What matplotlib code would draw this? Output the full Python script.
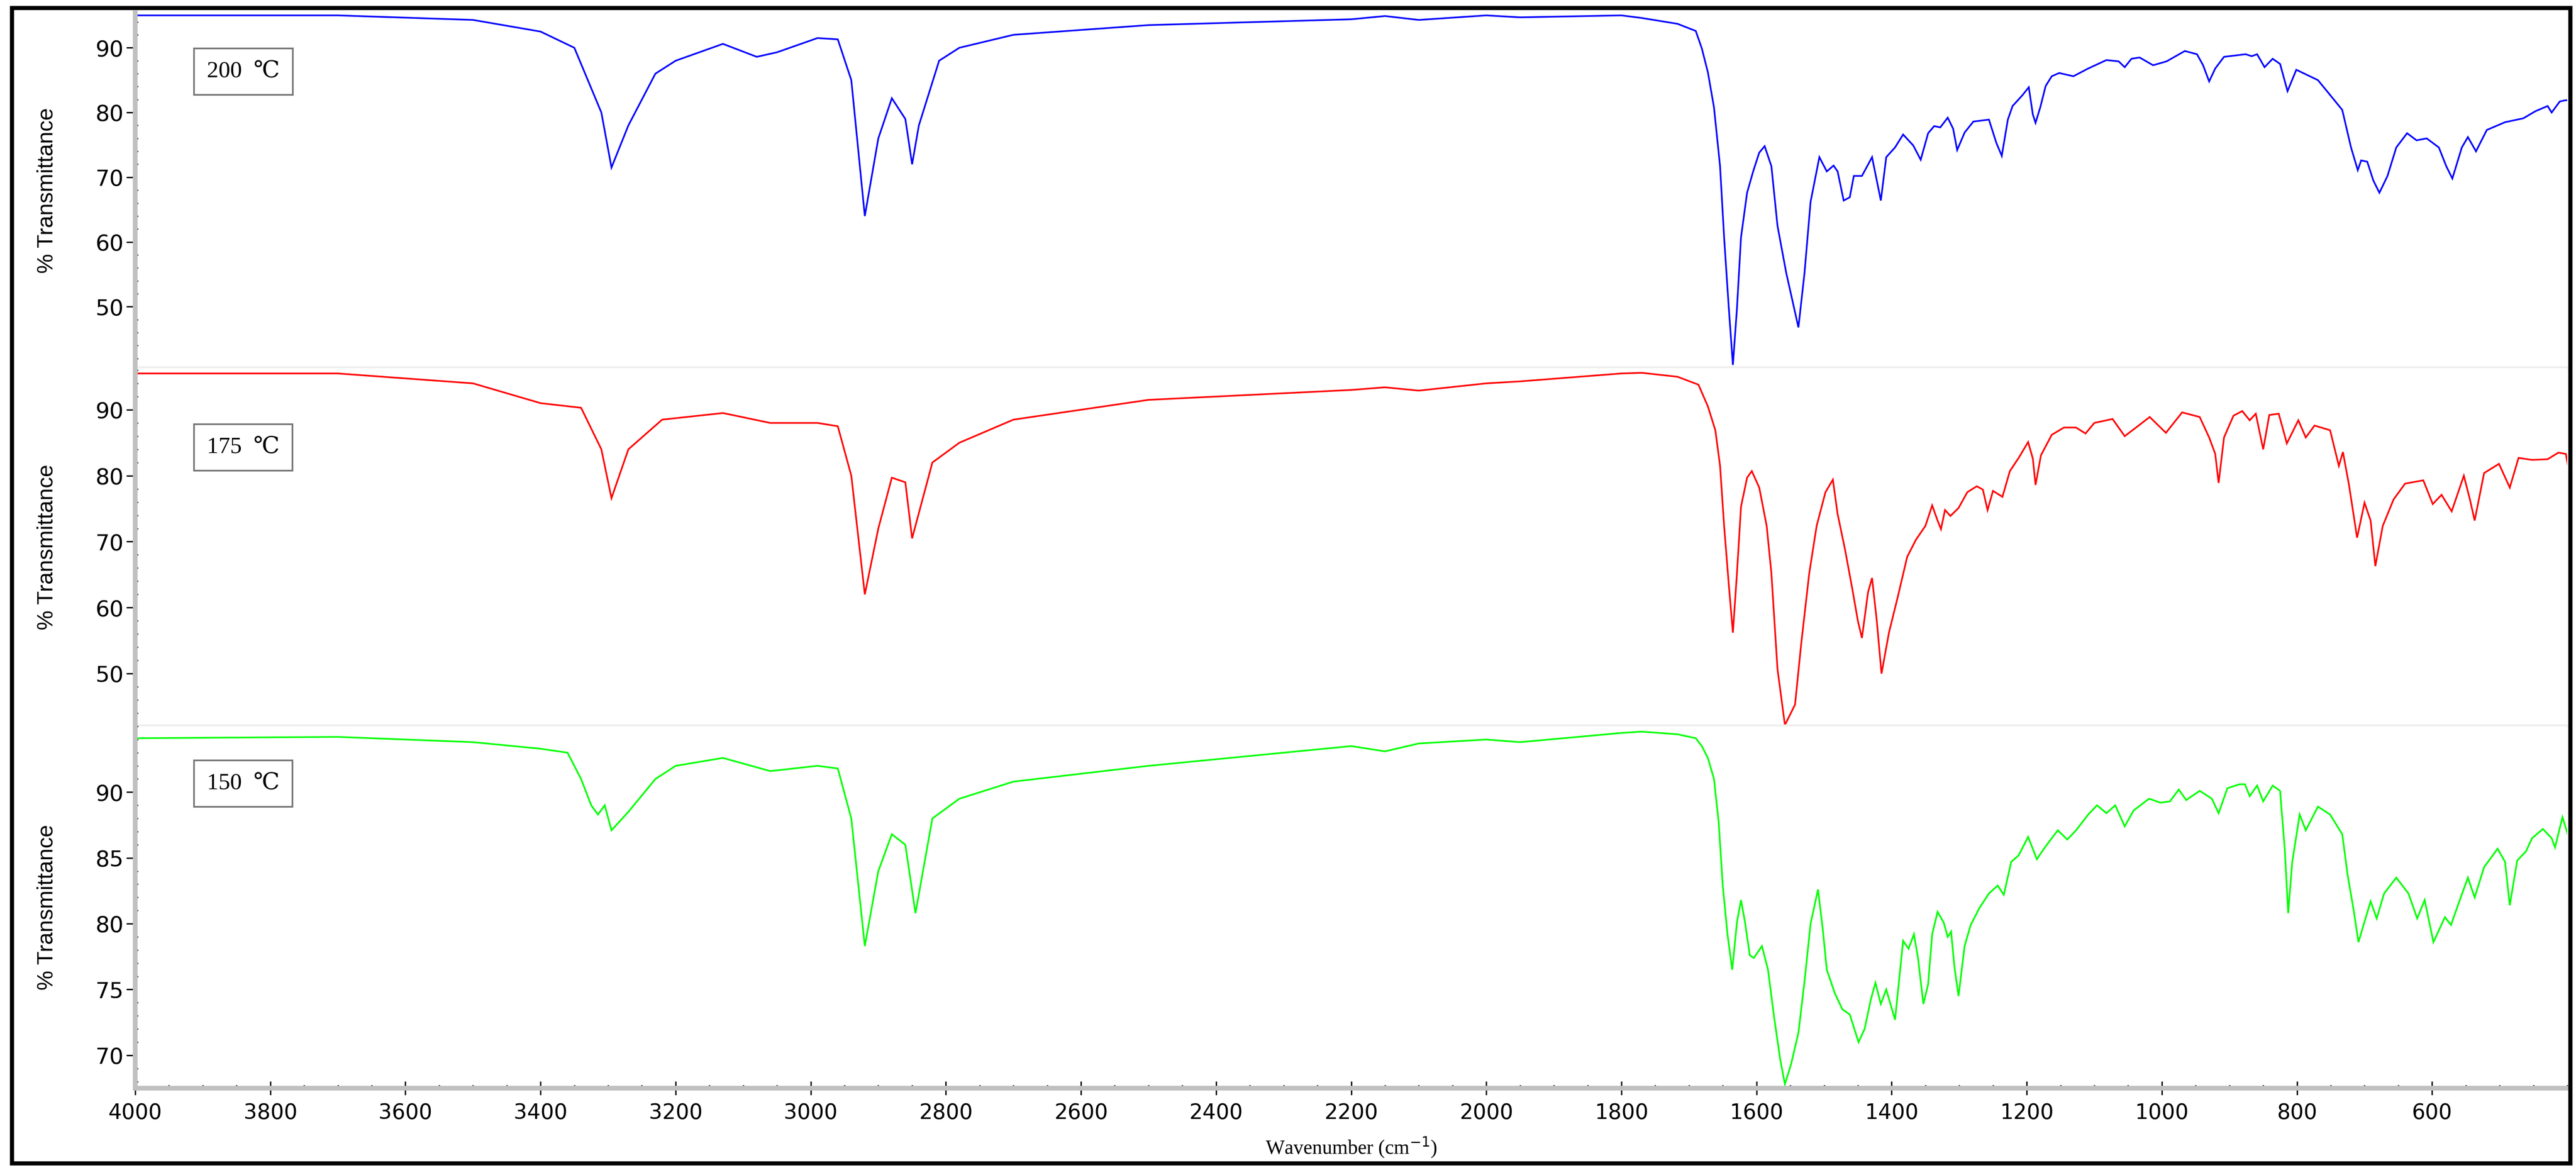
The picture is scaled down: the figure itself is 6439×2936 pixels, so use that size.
import matplotlib
matplotlib.use("Agg")
import matplotlib.pyplot as plt
from matplotlib import font_manager
from matplotlib.ticker import MultipleLocator
from matplotlib.patches import Rectangle

names = {f.name for f in font_manager.fontManager.ttflist}
NARROW = "Liberation Sans Narrow" if "Liberation Sans Narrow" in names else "DejaVu Sans Condensed" if "DejaVu Sans Condensed" in names else "DejaVu Sans"

# ---------------- data ----------------
wn_200 = [4000, 3700, 3500, 3400, 3350, 3310, 3295, 3270, 3230, 3200, 3130, 3080, 3050, 2990, 2960, 2940, 2920, 2900, 2880, 2860, 2850, 2840, 2810, 2780, 2700, 2500, 2200, 2150, 2100, 2000, 1950, 1800,
          1770, 1717, 1690, 1681, 1672, 1663, 1654, 1648, 1641, 1635, 1629, 1623, 1614, 1605, 1596, 1588, 1578, 1569, 1556, 1538, 1529, 1520, 1507, 1496, 1486, 1480, 1471, 1462, 1456, 1444, 1429, 1422, 1416, 1408, 1395, 1383, 1368, 1357, 1346, 1337, 1328, 1317, 1309, 1303, 1292, 1279, 1256, 1245, 1237, 1228, 1221, 1207, 1197, 1191, 1187, 1180, 1172, 1163, 1152, 1131, 1109, 1082, 1064, 1055, 1045, 1033, 1013, 993, 966, 948, 939, 930, 921, 908, 876, 867, 859, 848, 836, 825, 814, 801, 769, 747, 733, 720, 710, 705, 696, 687, 678, 666, 653, 637, 623, 608, 590, 579, 570, 556, 547, 535, 519, 492, 465, 447, 429, 423, 411, 402, 387]
t_200 = [95.0, 95.0, 94.3, 92.5, 90.0, 80.0, 71.5, 78.0, 86.0, 88.0, 90.6, 88.6, 89.3, 91.5, 91.3, 85.0, 64.0, 76.0, 82.2, 79.0, 72.0, 78.0, 88.0, 90.0, 92.0, 93.5, 94.4, 94.9, 94.3, 95.0, 94.7, 95.0,
         94.6, 93.7, 92.6, 89.9, 86.2, 80.8, 71.7, 60.7, 49.7, 41.0, 49.7, 60.7, 67.6, 70.9, 73.8, 74.8, 71.7, 62.5, 55.2, 46.8, 55.2, 66.2, 73.1, 70.9, 71.8, 70.9, 66.4, 66.9, 70.2, 70.2, 73.1, 69.5, 66.4, 73.1, 74.6, 76.6, 74.9, 72.7, 76.8, 77.9, 77.7, 79.2, 77.5, 74.2, 76.9, 78.6, 78.9, 75.3, 73.3, 78.9, 81.0, 82.6, 83.9, 79.7, 78.4, 80.8, 84.1, 85.6, 86.1, 85.6, 86.8, 88.1, 87.9, 87.0, 88.3, 88.5, 87.3, 87.9, 89.5, 89.0, 87.3, 84.8, 86.8, 88.6, 89.0, 88.7, 89.0, 87.0, 88.3, 87.5, 83.3, 86.6, 85.0, 82.2, 80.4, 74.6, 71.1, 72.6, 72.4, 69.5, 67.6, 70.2, 74.6, 76.8, 75.7, 76.0, 74.6, 71.7, 69.8, 74.6, 76.2, 74.0, 77.3, 78.5, 79.1, 80.2, 81.0, 80.0, 81.7, 81.9, 81.7]

wn_175 = [4000, 3700, 3500, 3400, 3340, 3310, 3295, 3270, 3220, 3130, 3060, 2990, 2960, 2940, 2920, 2900, 2880, 2860, 2850, 2820, 2780, 2700, 2500, 2200, 2150, 2100, 2000, 1950, 1800,
          1770, 1717, 1686, 1672, 1661, 1654, 1648, 1641, 1635, 1629, 1623, 1614, 1607, 1596, 1585, 1578, 1569, 1558, 1543, 1534, 1522, 1511, 1498, 1487, 1480, 1469, 1458, 1450, 1444, 1435, 1429, 1422, 1415, 1404, 1391, 1377, 1364, 1350, 1340, 1332, 1327, 1321, 1313, 1301, 1288, 1274, 1265, 1258, 1250, 1236, 1225, 1212, 1198, 1191, 1187, 1179, 1163, 1145, 1127, 1113, 1100, 1073, 1055, 1037, 1018, 994, 970, 944, 930, 921, 916, 908, 894, 881, 870, 861, 850, 841, 827, 815, 798, 787, 774, 751, 738, 732, 723, 711, 700, 691, 684, 673, 657, 640, 613, 599, 586, 571, 553, 544, 537, 523, 501, 485, 472, 452, 429, 413, 402, 398, 389]
t_175 = [95.5, 95.5, 94.0, 91.0, 90.3, 84.0, 76.6, 84.0, 88.5, 89.5, 88.0, 88.0, 87.5, 80.0, 62.0, 72.0, 79.7, 79.0, 70.5, 82.0, 85.0, 88.5, 91.5, 93.0, 93.4, 92.9, 94.0, 94.3, 95.5,
         95.6, 95.0, 93.8, 90.5, 86.9, 81.5, 72.4, 63.4, 56.2, 65.2, 75.3, 79.7, 80.7, 78.2, 72.4, 65.2, 50.7, 42.2, 45.3, 54.4, 65.2, 72.4, 77.5, 79.4, 74.2, 68.8, 62.7, 58.0, 55.4, 62.3, 64.5, 58.0, 50.0, 56.2, 61.6, 67.7, 70.3, 72.4, 75.5, 73.2, 71.9, 74.8, 73.9, 75.1, 77.5, 78.4, 77.9, 74.8, 77.7, 76.8, 80.7, 82.7, 85.1, 82.6, 78.6, 83.1, 86.2, 87.3, 87.3, 86.4, 88.0, 88.6, 86.0, 87.4, 88.9, 86.5, 89.6, 88.9, 85.8, 83.3, 78.9, 85.8, 89.1, 89.8, 88.4, 89.4, 84.0, 89.2, 89.4, 84.9, 88.4, 85.8, 87.6, 86.9, 81.5, 83.6, 78.6, 70.6, 75.9, 73.2, 66.3, 72.4, 76.4, 78.8, 79.3, 75.7, 77.1, 74.6, 80.0, 76.4, 73.2, 80.4, 81.8, 78.2, 82.7, 82.4, 82.5, 83.5, 83.3, 81.1, 80.4]

wn_150 = [4000, 3700, 3500, 3400, 3360, 3340, 3325, 3315, 3305, 3295, 3270, 3230, 3200, 3130, 3060, 2990, 2960, 2940, 2920, 2900, 2880, 2860, 2845, 2820, 2780, 2700, 2500, 2200, 2150, 2100, 2000, 1950, 1800,
          1770, 1717, 1690, 1681, 1672, 1663, 1656, 1650, 1643, 1636, 1629, 1623, 1617, 1610, 1604, 1592, 1583, 1574, 1565, 1558, 1549, 1538, 1529, 1520, 1509, 1502, 1496, 1484, 1473, 1462, 1449, 1440, 1431, 1424, 1416, 1408, 1395, 1383, 1375, 1367, 1361, 1353, 1346, 1340, 1332, 1323, 1317, 1312, 1307, 1301, 1292, 1283, 1270, 1256, 1243, 1234, 1223, 1212, 1198, 1185, 1176, 1163, 1154, 1140, 1127, 1109, 1096, 1082, 1069, 1055, 1042, 1019, 1002, 988, 975, 964, 944, 926, 916, 903, 885, 877, 870, 859, 850, 836, 825, 818, 813, 807, 796, 787, 769, 751, 733, 725, 716, 709, 698, 691, 682, 671, 653, 635, 622, 611, 598, 581, 572, 559, 547, 537, 523, 503, 492, 485, 474, 461, 452, 436, 423, 418, 407, 398, 389]
t_150 = [94.1, 94.2, 93.8, 93.3, 93.0, 91.0, 89.0, 88.3, 89.0, 87.1, 88.5, 91.0, 92.0, 92.6, 91.6, 92.0, 91.8, 88.0, 78.3, 84.0, 86.8, 86.0, 80.8, 88.0, 89.5, 90.8, 92.0, 93.5, 93.1, 93.7, 94.0, 93.8, 94.5,
         94.6, 94.4, 94.1, 93.5, 92.6, 91.0, 87.7, 82.9, 79.2, 76.5, 80.1, 81.8, 80.1, 77.6, 77.4, 78.3, 76.5, 72.9, 69.7, 67.8, 69.3, 71.7, 75.6, 80.0, 82.6, 79.6, 76.5, 74.7, 73.5, 73.1, 71.0, 72.0, 74.2, 75.5, 73.9, 75.0, 72.7, 78.7, 78.1, 79.2, 77.4, 73.9, 75.4, 79.2, 80.9, 80.1, 79.0, 79.4, 76.7, 74.5, 78.3, 79.9, 81.2, 82.3, 82.9, 82.2, 84.7, 85.2, 86.6, 84.9, 85.6, 86.5, 87.1, 86.4, 87.1, 88.3, 89.0, 88.4, 89.0, 87.4, 88.6, 89.5, 89.2, 89.3, 90.2, 89.4, 90.1, 89.5, 88.4, 90.3, 90.6, 90.6, 89.7, 90.5, 89.3, 90.5, 90.1, 85.6, 80.8, 84.7, 88.3, 87.1, 88.9, 88.3, 86.8, 83.7, 81.0, 78.6, 80.5, 81.7, 80.4, 82.3, 83.5, 82.3, 80.4, 81.8, 78.6, 80.5, 79.9, 81.8, 83.5, 82.0, 84.3, 85.7, 84.7, 81.4, 84.8, 85.5, 86.5, 87.2, 86.5, 85.8, 88.1, 86.6, 87.4]

labels = ["200  ℃", "175  ℃", "150  ℃"]
colors = ["#0000ff", "#ff0000", "#00ff00"]
ylims = [(40.5, 95.4), (42.0, 96.3), (67.5, 95.0)]
ymajor = [10, 10, 5]
yminor = [2, 2, 1]
yticks = [[50, 60, 70, 80, 90], [50, 60, 70, 80, 90], [70, 75, 80, 85, 90]]
xticks = [4000, 3800, 3600, 3400, 3200, 3000, 2800, 2600, 2400, 2200, 2000, 1800, 1600, 1400, 1200, 1000, 800, 600]
series = [(wn_200, t_200), (wn_175, t_175), (wn_150, t_150)]

# ---------------- layout ----------------
W, H = 6439, 2936
fig = plt.figure(figsize=(W / 100, H / 100), dpi=100)
fig.patch.set_facecolor("white")
fig.patches.append(Rectangle((30 / W, 1 - 2907 / H), (6425 - 30) / W, (2907 - 20) / H,
                             transform=fig.transFigure, fill=False, edgecolor="black", linewidth=7.5, zorder=10))

left, right = 338 / W, 6417 / W
bounds = [(32, 920), (920, 1815), (1815, 2719)]
label_y = [0.864, 0.808, 0.871]
GRAY = "#c0c0c0"
for i, ((wn, t), (top, bot)) in enumerate(zip(series, bounds)):
    ax = fig.add_axes([left, 1 - bot / H, right - left, (bot - top) / H])
    ax.plot(wn, t, color=colors[i], lw=3.0, solid_joinstyle="miter")
    ax.set_xlim(4000, 400)
    ax.set_ylim(*ylims[i])
    ax.yaxis.set_major_locator(MultipleLocator(ymajor[i]))
    ax.yaxis.set_minor_locator(MultipleLocator(yminor[i]))
    ax.set_yticks(yticks[i])
    for s in ("top", "right"):
        ax.spines[s].set_visible(False)
    ax.spines["left"].set_color(GRAY)
    ax.spines["left"].set_linewidth(8.5)
    ax.tick_params(axis="y", which="major", direction="out", length=16, width=2.5, pad=5,
                   labelsize=40, colors="black")
    ax.tick_params(axis="y", which="minor", direction="in", length=5, width=2.5, colors="black")
    for lab in ax.get_yticklabels():
        lab.set_fontfamily(NARROW)
    if i < 2:
        ax.spines["bottom"].set_color("#eeeeee")
        ax.spines["bottom"].set_linewidth(7)
        ax.tick_params(axis="x", which="both", bottom=False, labelbottom=False)
    else:
        ax.spines["bottom"].set_color(GRAY)
        ax.spines["bottom"].set_linewidth(8.5)
        ax.set_xticks(xticks)
        ax.xaxis.set_minor_locator(MultipleLocator(50))
        ax.tick_params(axis="x", which="major", direction="inout", length=24, width=2.5, pad=14,
                       labelsize=38, colors="black")
        ax.tick_params(axis="x", which="minor", direction="in", length=6, width=2.5, colors="black")
        for lab in ax.get_xticklabels():
            lab.set_fontfamily(NARROW)
        ax.set_xlabel("Wavenumber (cm$^{-1}$)", fontsize=36, family=["Liberation Serif", "DejaVu Serif"], labelpad=22)
    fig.text(118 / W, 1 - (top + bot) / 2 / H, "% Transmittance", rotation=90, ha="center", va="center",
             fontsize=40, family=["Liberation Sans", "DejaVu Sans"])
    ax.text(0.0295, label_y[i], labels[i], transform=ax.transAxes, ha="left", va="top",
            fontsize=42, family=["Liberation Serif", "DejaVu Serif"],
            bbox=dict(boxstyle="square,pad=0.55", facecolor="white", edgecolor="#777777", linewidth=3))

fig.savefig("out.png", dpi=100, facecolor="white")
